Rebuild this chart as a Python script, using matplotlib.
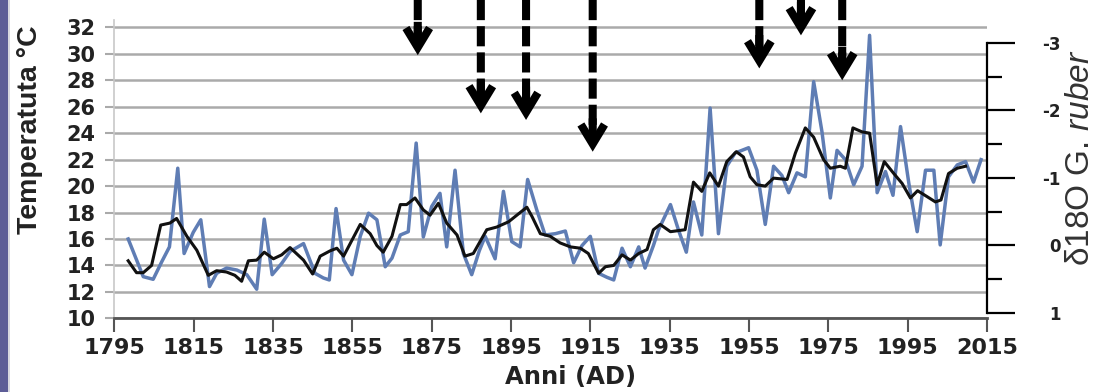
import matplotlib
matplotlib.use('Agg')
import matplotlib.pyplot as plt
from matplotlib.patches import Rectangle
from matplotlib.ticker import MultipleLocator

plt.rcParams['mathtext.fontset'] = 'custom'
plt.rcParams['mathtext.rm'] = 'Liberation Sans'
plt.rcParams['mathtext.it'] = 'Liberation Sans:italic'

# serie annuale (blu)
anni_blu = [1798.5, 1802.3, 1804.8, 1807.0, 1808.9, 1811.0, 1812.6, 1814.9, 1816.8, 1819.0,
            1820.8, 1823.3, 1825.9, 1828.4, 1830.9, 1832.8, 1834.8, 1837.2, 1839.3, 1842.7,
            1845.6, 1847.7, 1849.2, 1850.9, 1852.8, 1854.9, 1857.0, 1859.1, 1861.2, 1863.3,
            1865.0, 1867.1, 1869.1, 1871.1, 1872.9, 1875.0, 1877.1, 1878.8, 1880.9, 1883.0,
            1885.1, 1887.0, 1888.5, 1891.0, 1893.1, 1895.2, 1897.3, 1899.2, 1901.5, 1903.6,
            1906.2, 1908.7, 1910.8, 1912.9, 1915.0, 1917.1, 1919.2, 1920.9, 1923.0, 1925.1,
            1927.2, 1928.8, 1930.9, 1932.2, 1935.2, 1937.2, 1939.2, 1941.0, 1943.1, 1945.2,
            1947.3, 1949.4, 1951.5, 1953.2, 1954.9, 1957.0, 1959.1, 1961.2, 1963.3, 1965.0,
            1967.1, 1969.2, 1971.3, 1973.4, 1975.5, 1977.2, 1979.3, 1981.4, 1983.5, 1985.4,
            1987.3, 1989.4, 1991.3, 1993.2, 1995.3, 1997.4, 1999.5, 2001.6, 2003.2, 2005.3,
            2007.5, 2009.6, 2011.6, 2013.5]
temp_blu = [16.0, 13.15, 12.95, 14.3, 15.4, 21.35, 14.9, 16.5, 17.45, 12.4,
            13.4, 13.8, 13.65, 13.3, 12.2, 17.5, 13.3, 14.15, 15.05, 15.65,
            13.4, 13.05, 12.9, 18.3, 14.4, 13.3, 16.2, 17.95, 17.45, 13.9,
            14.55, 16.3, 16.55, 23.25, 16.15, 18.45, 19.45, 15.4, 21.2, 14.9,
            13.3, 15.1, 16.2, 14.5, 19.6, 15.8, 15.4, 20.5, 18.2, 16.3,
            16.4, 16.6, 14.2, 15.5, 16.2, 13.4, 13.1, 12.9, 15.3, 13.9,
            15.4, 13.8, 15.5, 16.7, 18.6, 16.7, 15.0, 18.8, 16.3, 25.9,
            16.4, 21.5, 22.5, 22.7, 22.9, 21.2, 17.1, 21.5, 20.8, 19.5,
            21.0, 20.7, 27.9, 24.1, 19.1, 22.7, 22.0, 20.1, 21.5, 31.4,
            19.5, 21.1, 19.3, 24.5, 20.2, 16.55, 21.2, 21.2, 15.55, 20.7,
            21.6, 21.85, 20.3, 22.0]

# media mobile (nero)
anni_nero = [1798.5, 1800.6, 1802.3, 1804.4, 1806.7, 1809.0, 1810.7, 1813.3, 1815.8, 1818.7,
             1820.8, 1823.3, 1825.4, 1827.1, 1828.8, 1830.9, 1832.8, 1835.1, 1837.2, 1839.3,
             1842.7, 1845.0, 1846.9, 1849.4, 1851.1, 1852.8, 1854.9, 1857.0, 1859.5, 1861.2,
             1862.8, 1865.0, 1867.1, 1868.7, 1870.8, 1872.9, 1874.6, 1876.7, 1878.8, 1881.4,
             1883.4, 1885.5, 1888.9, 1891.4, 1894.4, 1896.9, 1899.0, 1900.3, 1902.4, 1904.9,
             1907.4, 1910.0, 1912.5, 1914.5, 1917.1, 1918.8, 1920.9, 1923.0, 1925.1, 1927.2,
             1929.3, 1930.9, 1932.6, 1935.2, 1938.9, 1941.0, 1943.1, 1945.1, 1947.3, 1949.4,
             1951.8, 1953.6, 1955.3, 1957.0, 1959.1, 1961.2, 1964.6, 1966.7, 1969.2, 1971.3,
             1973.8, 1975.5, 1978.0, 1979.3, 1981.2, 1983.5, 1985.4, 1987.3, 1989.1, 1991.5,
             1993.6, 1995.7, 1997.5, 1999.9, 2002.0, 2003.4, 2005.3, 2007.5, 2009.6]
temp_nero = [14.35, 13.45, 13.45, 14.0, 17.05, 17.2, 17.55, 16.2, 15.15, 13.25,
             13.6, 13.5, 13.25, 12.8, 14.35, 14.4, 15.0, 14.5, 14.8, 15.35,
             14.4, 13.35, 14.7, 15.1, 15.3, 14.7, 15.9, 17.1, 16.4, 15.5,
             15.0, 16.2, 18.6, 18.6, 19.1, 18.2, 17.8, 18.7, 17.2, 16.3,
             14.7, 14.9, 16.7, 16.9, 17.3, 17.9, 18.4, 17.7, 16.4, 16.2,
             15.7, 15.4, 15.3, 14.9, 13.4, 13.9, 14.0, 14.8, 14.4, 14.9,
             15.2, 16.7, 17.1, 16.55, 16.7, 20.3, 19.6, 21.0, 20.0, 21.85,
             22.6, 22.2, 20.7, 20.1, 20.0, 20.6, 20.5, 22.5, 24.4, 23.7,
             22.0, 21.35, 21.5, 21.35, 24.4, 24.1, 24.0, 20.1, 21.85, 20.95,
             20.2, 19.1, 19.65, 19.2, 18.8, 18.95, 20.95, 21.35, 21.5]

# frecce: anno e punta (gradi C)
anni_frecce = [1871.5, 1887.4, 1898.8, 1915.6, 1957.6, 1968.1, 1978.5]
punta_frecce = [29.9, 25.5, 25.0, 22.6, 28.9, 31.4, 28.0]

anni_ticks = list(range(1795, 2016, 20))
temp_ticks = list(range(10, 33, 2))
d18o_ticks = [-3, -2, -1, 0, 1]

W, H = 1098, 392
fig = plt.figure(figsize=(W / 100, H / 100), dpi=100)
ax = fig.add_axes([114.3 / W, 73.7 / H, 872.7 / W, 298.3 / H])

ax.plot(anni_blu, temp_blu, color='#5f7db4', lw=2.5, zorder=3)
ax.plot(anni_nero, temp_nero, color='#111111', lw=2.2, zorder=4)

ax.set_xlim(1795, 2015)
ax.set_ylim(10, 32.56)
ax.set_xticks(anni_ticks, labels=[str(a) for a in anni_ticks],
              fontweight='bold', fontsize=16, color='#222222')
ax.set_yticks(temp_ticks, labels=[str(t) for t in temp_ticks],
              fontweight='bold', fontsize=15, color='#222222')
ax.grid(axis='y', color='#aaaaaa', lw=1.8)
ax.set_axisbelow(True)
ax.tick_params(axis='y', direction='out', length=6.5, width=1.5, color='#aaaaaa', pad=7)
ax.tick_params(axis='x', direction='out', length=10, width=1.5, color='#555555', pad=4)
ax.spines['top'].set_visible(False)
ax.spines['right'].set_visible(False)
ax.spines['left'].set_color('#c8c8c8')
ax.spines['left'].set_linewidth(1.2)
ax.spines['bottom'].set_color('#555555')
ax.spines['bottom'].set_linewidth(2)

ax.set_ylabel('Temperatuta °C', fontsize=20.5, fontweight='bold',
              family='Liberation Sans', color='#222222')
ax.yaxis.set_label_coords(-0.0817, 0.631)
ax.set_xlabel('Anni (AD)', fontsize=17.5, fontweight='bold', color='#222222')
ax.xaxis.set_label_coords(0.5233, -0.1566)

# asse destro delta18O
ax2 = ax.twinx()
ax2.set_ylim(1.079, -3.34)
for s in ['top', 'left', 'bottom']:
    ax2.spines[s].set_visible(False)
ax2.spines['right'].set_bounds(-3, 1)
ax2.spines['right'].set_linewidth(1.6)
ax2.set_yticks(d18o_ticks, labels=[str(v) for v in d18o_ticks],
               fontweight='bold', fontsize=12, color='#222222')
ax2.yaxis.set_minor_locator(MultipleLocator(0.5))
ax2.tick_params(which='major', direction='out', length=20, width=1.6, pad=33)
ax2.tick_params(which='minor', direction='out', length=11, width=1.6)
for lbl in ax2.get_yticklabels():
    lbl.set_ha('right')
ax2.set_ylabel(r'δ18O G. $\mathit{ruber}$', fontsize=24, family='Liberation Sans',
               color='#333333')
ax2.yaxis.set_label_coords(1.0895, 0.539)

# frecce tratteggiate
for yr, tip in zip(anni_frecce, punta_frecce):
    ax.annotate('', xy=(yr, tip), xytext=(yr, 1.0), xycoords='data',
                textcoords=('data', 'figure fraction'), annotation_clip=False,
                arrowprops=dict(arrowstyle='-', lw=5.8, color='black',
                                linestyle=(0, (2.5, 0.75)), capstyle='butt',
                                shrinkA=0, shrinkB=12))
    ax.annotate('', xy=(yr, tip), xytext=(0, 24), textcoords='offset points',
                annotation_clip=False,
                arrowprops=dict(arrowstyle='->,head_length=14,head_width=8.5',
                                mutation_scale=1, lw=5.8, color='black',
                                joinstyle='miter', capstyle='butt',
                                shrinkA=0, shrinkB=0))

# banda laterale
fig.add_artist(Rectangle((0, 0), 7.5 / W, 1, transform=fig.transFigure,
                         facecolor='#5d5d97', edgecolor='none'))
fig.add_artist(Rectangle((7.5 / W, 0), 2.5 / W, 1, transform=fig.transFigure,
                         facecolor='#d8d8e0', edgecolor='none'))

fig.savefig('out.png', dpi=100)
